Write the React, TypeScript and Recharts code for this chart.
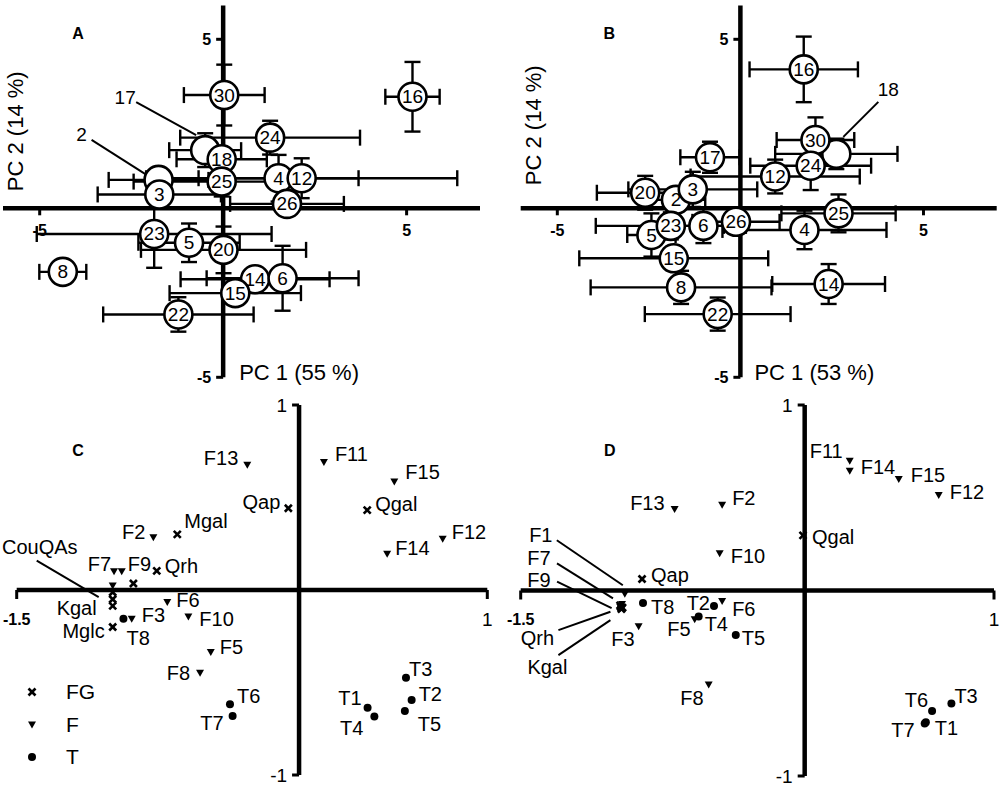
import React from "react";
import {
  ScatterChart,
  Scatter,
  XAxis,
  YAxis,
  ErrorBar,
  ReferenceLine,
  ReferenceDot,
  Legend,
} from "recharts";

const FONT = "Arial, 'Liberation Sans', sans-serif";

// A: sample scores (PC1 55 %, PC2 14 %), drawn in this order
const aIds = ["2", "17", "3", "30", "16", "24", "18", "25", "4", "12", "26", "23", "5", "20", "8", "14", "6", "15", "22"];
const aPc1 = [-1.76, -0.49, -1.74, 0.03, 5.16, 1.28, -0.04, -0.04, 1.51, 2.14, 1.74, -1.88, -0.93, 0.01, -4.37, 0.87, 1.62, 0.33, -1.22];
const aPc2 = [0.84, 1.72, 0.41, 3.35, 3.3, 2.09, 1.45, 0.79, 0.89, 0.89, 0.13, -0.76, -1.02, -1.23, -1.88, -2.1, -2.07, -2.51, -3.14];
const aErrX = [1.36, 0.98, 1.68, 1.1, 0.74, 2.45, 1.23, 2.4, 2.18, 4.24, 1.55, 3.2, 1.38, 2.25, 0.64, 2.03, 2.07, 1.79, 2.05];
const aErrY = [0.35, 0.5, 0.3, 0.9, 1.03, 0.5, 0.3, 0.44, 0.69, 0.59, 0.3, 1.0, 0.57, 0.69, 0, 0.3, 0.96, 0.3, 0.51];

// B: sample scores (PC1 53 %, PC2 14 %)
const bIds = ["18", "2", "20", "3", "17", "5", "23", "6", "26", "15", "8", "22", "4", "25", "14", "12", "30", "24", "16"];
const bPc1 = [2.62, -1.76, -2.6, -1.3, -0.83, -2.43, -1.9, -1.01, -0.12, -1.82, -1.62, -0.62, 1.75, 2.68, 2.41, 0.95, 2.05, 1.92, 1.73];
const bPc2 = [1.61, 0.25, 0.46, 0.56, 1.51, -0.79, -0.52, -0.52, -0.4, -1.48, -2.34, -3.13, -0.64, -0.15, -2.24, 0.94, 2.02, 1.26, 4.11];
const bErrX = [1.67, 0.8, 1.32, 1.76, 0.81, 0.66, 2.05, 0.56, 1.19, 2.58, 2.47, 1.99, 2.24, 1.56, 1.54, 2.31, 1.06, 1.65, 1.48];
const bErrY = [0.45, 0.3, 0.5, 0.52, 0.46, 0.64, 0.4, 0.51, 0.3, 0.35, 0.49, 0.49, 0.57, 0.56, 0.59, 0.5, 0.67, 0.72, 0.97];

// C: loadings
const cFgNames = ["Qap", "Qgal", "Mgal", "Qrh", "", "CouQAs", "", "Kgal", "Mglc"];
const cFgX = [-0.057, 0.362, -0.647, -0.756, -0.88, -0.99, -0.99, -0.99, -0.99];
const cFgY = [0.442, 0.432, 0.301, 0.103, 0.035, -0.012, -0.05, -0.086, -0.2];
const fNames = ["F1", "F2", "F3", "F5", "F6", "F7", "F8", "F9", "F10", "F11", "F12", "F13", "F14", "F15"];
const cFX = [-0.99, -0.774, -0.889, -0.469, -0.7, -0.983, -0.526, -0.942, -0.588, 0.132, 0.763, -0.275, 0.468, 0.506];
const cFY = [0.022, 0.283, -0.158, -0.338, -0.068, 0.099, -0.45, 0.099, -0.146, 0.689, 0.274, 0.674, 0.193, 0.584];
const tNames = ["T1", "T2", "T3", "T4", "T5", "T6", "T7", "T8"];
const cTX = [0.364, 0.598, 0.568, 0.4, 0.562, -0.367, -0.353, -0.933];
const cTY = [-0.636, -0.594, -0.474, -0.684, -0.654, -0.618, -0.681, -0.155];

// D: loadings
const dFgNames = ["Qap", "Qgal", "Mgal", "Qrh", "CouQAs", "Kgal", "Mglc"];
const dFgX = [-0.859, -0.009, -0.975, -0.968, -0.972, -0.968, -0.962];
const dFgY = [0.062, 0.297, -0.08, -0.095, -0.088, -0.1, -0.092];
const dFX = [-0.95, -0.436, -0.877, -0.581, -0.436, -0.965, -0.507, -0.97, -0.449, 0.238, 0.708, -0.687, 0.238, 0.497];
const dFY = [-0.02, 0.46, -0.195, -0.158, -0.059, -0.075, -0.51, -0.09, 0.198, 0.697, 0.512, 0.436, 0.643, 0.598];
const dTX = [0.64, -0.479, 0.775, -0.56, -0.364, 0.673, 0.634, -0.854];
const dTY = [-0.71, -0.083, -0.609, -0.14, -0.24, -0.649, -0.717, -0.068];

const groupNames = ["FG", "F", "T"];

const scores = (ids: string[], xs: number[], ys: number[], ex: number[], ey: number[]) =>
  ids.map((id, i) => ({ id, x: xs[i], y: ys[i], ex: ex[i], ey: ey[i] }));
const loads = (names: string[], xs: number[], ys: number[]) =>
  names.map((name, i) => ({ name, x: xs[i], y: ys[i] }));

const aData = scores(aIds, aPc1, aPc2, aErrX, aErrY);
const bData = scores(bIds, bPc1, bPc2, bErrX, bErrY);

type Place = { dx: number; dy: number; anchor?: "start" | "middle" | "end"; lead?: number[] };

// label placement (pixel offsets from the marker)
const aOutside: Record<string, Place> = {
  "17": { dx: -80, dy: -53, anchor: "middle", lead: [-69, -48, -9, -15] },
  "2": { dx: -77, dy: -45, anchor: "middle", lead: [-67, -40, -12, -5] },
};
const bOutside: Record<string, Place> = {
  "18": { dx: 52, dy: -64, anchor: "middle", lead: [42, -52, 7, -17] },
};
const cPlace: Record<string, Place> = {
  F13: { dx: -9, dy: -7, anchor: "end" },
  F11: { dx: 11, dy: -9 },
  F15: { dx: 11, dy: -10 },
  Qap: { dx: -8, dy: -6, anchor: "end" },
  Qgal: { dx: 8, dy: -6 },
  F12: { dx: 9, dy: -7 },
  F14: { dx: 8, dy: -6 },
  Mgal: { dx: 7, dy: -13 },
  F2: { dx: -8, dy: -6, anchor: "end" },
  F7: { dx: -3, dy: -8, anchor: "end" },
  F9: { dx: 6, dy: -8 },
  Qrh: { dx: 8, dy: -5 },
  CouQAs: { dx: -110.7, dy: -45.5, lead: [-76, -31.5, -14, 5] },
  Kgal: { dx: -16, dy: 2, anchor: "end" },
  Mglc: { dx: -8, dy: 4, anchor: "end" },
  T8: { dx: 3, dy: 19 },
  F3: { dx: 10, dy: -4 },
  F6: { dx: 9, dy: -3 },
  F10: { dx: 11, dy: 2 },
  F5: { dx: 9, dy: -6 },
  F8: { dx: -10, dy: 0, anchor: "end" },
  T6: { dx: 7, dy: -8 },
  T7: { dx: -9, dy: 7, anchor: "end" },
  T3: { dx: 3, dy: -9 },
  T2: { dx: 7, dy: -6 },
  T5: { dx: 13, dy: 13 },
  T1: { dx: -6, dy: -10, anchor: "end" },
  T4: { dx: -11, dy: 11, anchor: "end" },
};
const dPlace: Record<string, Place> = {
  F11: { dx: -7, dy: -10, anchor: "end" },
  F14: { dx: 11, dy: -4 },
  F15: { dx: 12, dy: -5 },
  F12: { dx: 11, dy: -4 },
  F13: { dx: -10, dy: -7, anchor: "end" },
  F2: { dx: 10, dy: -7 },
  Qgal: { dx: 9, dy: 2 },
  F10: { dx: 11, dy: 2 },
  Qap: { dx: 9, dy: -4 },
  T8: { dx: 8, dy: 4 },
  F3: { dx: -4, dy: 12, anchor: "end" },
  T2: { dx: -4, dy: -3, anchor: "end" },
  F6: { dx: 10, dy: 8 },
  F5: { dx: -4, dy: 9, anchor: "end" },
  T4: { dx: 6, dy: 8 },
  T5: { dx: 6, dy: 3 },
  F8: { dx: -5, dy: 13, anchor: "end" },
  T6: { dx: -4, dy: -11, anchor: "end" },
  T3: { dx: 3, dy: -7 },
  T7: { dx: -10, dy: 6, anchor: "end" },
  T1: { dx: 9, dy: 6 },
  F1: { dx: -84, dy: -59, anchor: "middle", lead: [-68, -54, -2, -9] },
  F7: { dx: -83, dy: -46, anchor: "middle", lead: [-65, -41, -9, -6] },
  F9: { dx: -82, dy: -27, anchor: "middle", lead: [-64, -25.5, -9.4, 1] },
  Qrh: { dx: -84, dy: 30, anchor: "middle", lead: [-63, 22, -11, 3.6] },
  Kgal: { dx: -74, dy: 58, anchor: "middle", lead: [-63, 46, -11, 11] },
};

const txt = { fontFamily: FONT, fill: "#000" };

const leadLine = (cx: number, cy: number, l?: number[]) =>
  l ? <line x1={cx + l[0]} y1={cy + l[1]} x2={cx + l[2]} y2={cy + l[3]} stroke="#000" strokeWidth={2} /> : null;

const circleShape = (outside: Record<string, Place>) => (p: any) => {
  const { cx, cy, payload } = p;
  const pl = outside[payload.id];
  return (
    <g>
      {pl && leadLine(cx, cy, pl.lead)}
      <circle cx={cx} cy={cy} r={14} fill="#fff" stroke="#000" strokeWidth={2.6} />
      <text
        x={pl ? cx + pl.dx : cx}
        y={pl ? cy + pl.dy : cy}
        textAnchor="middle"
        dominantBaseline="central"
        fontSize={19}
        {...txt}
      >
        {payload.id}
      </text>
    </g>
  );
};

const Sym = ({ kind, cx, cy }: { kind: string; cx: number; cy: number }) => {
  if (kind === "FG")
    return (
      <g stroke="#000" strokeWidth={2.6}>
        <line x1={cx - 3.5} y1={cy - 3.5} x2={cx + 3.5} y2={cy + 3.5} />
        <line x1={cx - 3.5} y1={cy + 3.5} x2={cx + 3.5} y2={cy - 3.5} />
      </g>
    );
  if (kind === "F")
    return <polygon points={`${cx - 4},${cy - 3.5} ${cx + 4},${cy - 3.5} ${cx},${cy + 3.5}`} fill="#000" />;
  return <circle cx={cx} cy={cy} r={4} fill="#000" />;
};

const markShape = (kind: string, places: Record<string, Place>) => (p: any) => {
  const { cx, cy, payload } = p;
  const pl = places[payload.name];
  return (
    <g>
      {pl && leadLine(cx, cy, pl.lead)}
      <Sym kind={kind} cx={cx} cy={cy} />
      {pl && (
        <text
          x={cx + pl.dx}
          y={cy + pl.dy}
          textAnchor={pl.anchor || "start"}
          dominantBaseline="central"
          fontSize={20}
          {...txt}
        >
          {payload.name}
        </text>
      )}
    </g>
  );
};

const tickX = (label: string, len: number, gap: number, bold: boolean, size: number) => (p: any) => (
  <g>
    <line x1={p.cx} y1={p.cy} x2={p.cx} y2={p.cy + len} stroke="#000" strokeWidth={3} />
    <text x={p.cx} y={p.cy + gap} textAnchor="middle" dominantBaseline="central" fontSize={size} fontWeight={bold ? "bold" : "normal"} {...txt}>
      {label}
    </text>
  </g>
);

const tickY = (label: string, len: number, gap: number, bold: boolean, size: number) => (p: any) => (
  <g>
    <line x1={p.cx - len} y1={p.cy} x2={p.cx} y2={p.cy} stroke="#000" strokeWidth={3} />
    <text x={p.cx - gap} y={p.cy} textAnchor="end" dominantBaseline="central" fontSize={size} fontWeight={bold ? "bold" : "normal"} {...txt}>
      {label}
    </text>
  </g>
);

type Note = { t: string; dx: number; dy: number; size: number; anchor?: string; bold?: boolean; rot?: boolean };
const notes = (items: Note[]) => (p: any) => (
  <g>
    {items.map((it, i) => {
      const x = p.cx + it.dx;
      const y = p.cy + it.dy;
      return (
        <text
          key={i}
          x={x}
          y={y}
          transform={it.rot ? `rotate(-90 ${x} ${y})` : undefined}
          textAnchor={it.anchor || "middle"}
          dominantBaseline="central"
          fontSize={it.size}
          fontWeight={it.bold ? "bold" : "normal"}
          {...txt}
        >
          {it.t}
        </text>
      );
    })}
  </g>
);

const axes = () => [
  <ReferenceLine key="ax" x={0} stroke="#000" strokeWidth={4.5} />,
  <ReferenceLine key="ay" y={0} stroke="#000" strokeWidth={4.5} />,
];

const scoreTicks = () => [
  <ReferenceDot key="tx1" x={-5} y={0} r={0} shape={tickX("-5", 7, 22, true, 16)} />,
  <ReferenceDot key="tx2" x={5} y={0} r={0} shape={tickX("5", 7, 22, true, 16)} />,
  <ReferenceDot key="ty1" x={0} y={5} r={0} shape={tickY("5", 7, 12, true, 16)} />,
  <ReferenceDot key="ty2" x={0} y={-5} r={0} shape={tickY("-5", 7, 12, true, 16)} />,
];

const loadTicks = () => [
  <ReferenceDot key="tx1" x={-1.5} y={0} r={0} shape={tickX("-1.5", 9, 29, true, 16)} />,
  <ReferenceDot key="tx2" x={1} y={0} r={0} shape={tickX("1", 9, 29, false, 19)} />,
  <ReferenceDot key="ty1" x={0} y={1} r={0} shape={tickY("1", 7, 12, false, 19)} />,
  <ReferenceDot key="ty2" x={0} y={-1} r={0} shape={tickY("-1", 7, 12, false, 19)} />,
];

const LegendC = () => (
  <div style={{ fontFamily: FONT, fontSize: 21, color: "#000" }}>
    {groupNames.map((g) => (
      <div key={g} style={{ display: "flex", alignItems: "center", height: 32.5 }}>
        <svg width={16} height={16} style={{ flex: "none" }}>
          <Sym kind={g} cx={8} cy={8} />
        </svg>
        <span style={{ marginLeft: 26 }}>{g}</span>
      </div>
    ))}
  </div>
);

const barStyle = { stroke: "#000", strokeWidth: 2.4, width: 8 };

export default function App() {
  return (
    <div style={{ position: "absolute", left: 0, top: 0, width: 1000, height: 786, background: "#fff", overflow: "hidden" }}>
      <div style={{ position: "absolute", left: 0, top: 0 }}>
        <ScatterChart width={500} height={390} margin={{ top: 5.5, right: 20, bottom: 12.7, left: 3 }}>
          <XAxis type="number" dataKey="x" domain={[-6, 7]} hide />
          <YAxis type="number" dataKey="y" domain={[-5, 6]} hide />
          {axes()}
          {scoreTicks()}
          <ReferenceDot
            x={0}
            y={0}
            r={0}
            shape={notes([
              { t: "A", dx: -145, dy: -175, size: 16, bold: true },
              { t: "PC 1 (55 %)", dx: 16, dy: 164, size: 22, anchor: "start" },
              { t: "PC 2 (14 %)", dx: -208, dy: -77, size: 22, rot: true },
            ])}
          />
          <Scatter data={aData} shape={() => <g />} isAnimationActive={false} legendType="none">
            <ErrorBar dataKey="ex" direction="x" {...barStyle} />
            <ErrorBar dataKey="ey" direction="y" {...barStyle} />
          </Scatter>
          <Scatter data={aData} shape={circleShape(aOutside)} isAnimationActive={false} />
        </ScatterChart>
      </div>

      <div style={{ position: "absolute", left: 500, top: 0 }}>
        <ScatterChart width={500} height={390} margin={{ top: 5.5, right: 3.3, bottom: 12.7, left: 20.7 }}>
          <XAxis type="number" dataKey="x" domain={[-6, 7]} hide />
          <YAxis type="number" dataKey="y" domain={[-5, 6]} hide />
          {axes()}
          {scoreTicks()}
          <ReferenceDot
            x={0}
            y={0}
            r={0}
            shape={notes([
              { t: "B", dx: -131, dy: -175, size: 16, bold: true },
              { t: "PC 1 (53 %)", dx: 14, dy: 164, size: 22, anchor: "start" },
              { t: "PC 2 (14 %)", dx: -207, dy: -83, size: 22, rot: true },
            ])}
          />
          <Scatter data={bData} shape={() => <g />} isAnimationActive={false} legendType="none">
            <ErrorBar dataKey="ex" direction="x" {...barStyle} />
            <ErrorBar dataKey="ey" direction="y" {...barStyle} />
          </Scatter>
          <Scatter data={bData} shape={circleShape(bOutside)} isAnimationActive={false} />
        </ScatterChart>
      </div>

      <div style={{ position: "absolute", left: 0, top: 390 }}>
        <ScatterChart width={500} height={396} margin={{ top: 15, right: 12.7, bottom: 11, left: 16.7 }}>
          <XAxis type="number" dataKey="x" domain={[-1.5, 1]} hide />
          <YAxis type="number" dataKey="y" domain={[-1, 1]} hide />
          {axes()}
          {loadTicks()}
          <ReferenceDot x={0} y={0} r={0} shape={notes([{ t: "C", dx: -221, dy: -140, size: 16, bold: true }])} />
          <Scatter name="FG" data={loads(cFgNames, cFgX, cFgY)} shape={markShape("FG", cPlace)} isAnimationActive={false} />
          <Scatter name="F" data={loads(fNames, cFX, cFY)} shape={markShape("F", cPlace)} isAnimationActive={false} />
          <Scatter name="T" data={loads(tNames, cTX, cTY)} shape={markShape("T", cPlace)} isAnimationActive={false} />
          <Legend
            layout="vertical"
            align="center"
            verticalAlign="middle"
            wrapperStyle={{ left: 24, top: 286, width: 100 }}
            content={<LegendC />}
          />
        </ScatterChart>
      </div>

      <div style={{ position: "absolute", left: 500, top: 390 }}>
        <ScatterChart width={500} height={396} margin={{ top: 15, right: 6, bottom: 10, left: 20.7 }}>
          <XAxis type="number" dataKey="x" domain={[-1.5, 1]} hide />
          <YAxis type="number" dataKey="y" domain={[-1, 1]} hide />
          {axes()}
          {loadTicks()}
          <ReferenceDot x={0} y={0} r={0} shape={notes([{ t: "D", dx: -195, dy: -140, size: 16, bold: true }])} />
          <Scatter name="FG" data={loads(dFgNames, dFgX, dFgY)} shape={markShape("FG", dPlace)} isAnimationActive={false} />
          <Scatter name="F" data={loads(fNames, dFX, dFY)} shape={markShape("F", dPlace)} isAnimationActive={false} />
          <Scatter name="T" data={loads(tNames, dTX, dTY)} shape={markShape("T", dPlace)} isAnimationActive={false} />
        </ScatterChart>
      </div>
    </div>
  );
}
